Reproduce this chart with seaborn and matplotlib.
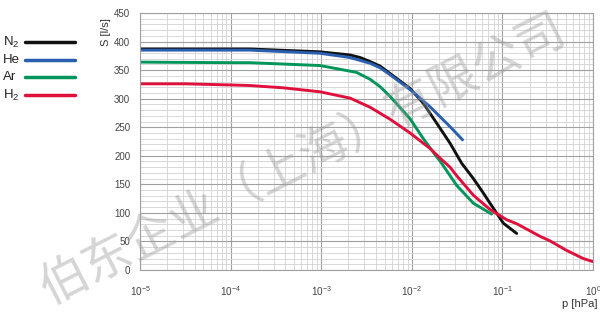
import numpy as np
import pandas as pd
import matplotlib
matplotlib.use("Agg")
import matplotlib.pyplot as plt
import matplotlib.ticker as mticker
from matplotlib.lines import Line2D
import seaborn as sns

# ---- data, pressure as log10(p [hPa]) ----
n2_logp = [-5, -4, -3.786, -3.013, -2.682, -2.57, -2.461, -2.35, -2.24, -2.02, -1.873,
           -1.725, -1.578, -1.45, -1.32, -1.22, -1.137, -0.99, -0.842]
n2_s = [387, 387, 387, 382, 376.5, 372, 365, 357, 344, 318, 292,
        257, 222, 187, 160, 137, 117, 82, 64]

he_logp = [-5, -4, -3.786, -3.013, -2.682, -2.461, -2.35, -2.24, -2.02, -1.80, -1.578, -1.44]
he_s = [385, 385, 385, 379.5, 372, 362, 354, 342, 316, 286, 251, 228]

ar_logp = [-5, -4, -3.786, -3.013, -2.61, -2.461, -2.35, -2.24, -2.02, -1.873, -1.725,
           -1.689, -1.504, -1.321, -1.12]
ar_s = [364, 363, 363, 358, 346, 334, 321, 304, 265, 230, 198,
        191, 148, 117, 98]

h2_logp = [-5, -4.5, -4, -3.786, -3.418, -3.013, -2.682, -2.461, -2.24, -2.02, -1.80,
           -1.689, -1.578, -1.504, -1.321, -1.137, -0.953, -0.842, -0.585, -0.475,
           -0.3, -0.107, 0]
h2_s = [326, 326, 324, 323, 319, 312, 301, 285, 264, 240, 213,
        196, 180, 165, 131, 106, 88, 81, 59, 51,
        35, 20, 14.6]

gases = ["N$_2$", "He", "Ar", "H$_2$"]
colors = ["#111111", "#2a5fb0", "#00955a", "#e0103c"]

frames = []
for g, lp, s in zip(gases, [n2_logp, he_logp, ar_logp, h2_logp], [n2_s, he_s, ar_s, h2_s]):
    frames.append(pd.DataFrame({"p": np.power(10.0, lp), "S": s, "gas": g}))
df = pd.concat(frames, ignore_index=True)

sns.set_style("white")
plt.rcParams["font.family"] = ["Liberation Sans", "DejaVu Sans"]
plt.rcParams["mathtext.fontset"] = "custom"
plt.rcParams["mathtext.rm"] = "Liberation Sans"
plt.rcParams["mathtext.it"] = "Liberation Sans"

fig = plt.figure(figsize=(6.0, 3.14), dpi=100)
ax = fig.add_axes([140/600, 1-270/314, (593-140)/600, (270-13)/314])

ax.set_xscale("log")
sns.lineplot(data=df, x="p", y="S", hue="gas", hue_order=gases,
             palette=colors, linewidth=2.1, ax=ax, legend=False, sort=False)

ax.set_xlim(1e-5, 1)
ax.set_ylim(0, 450)
ax.xaxis.set_major_locator(mticker.LogLocator(base=10, numticks=10))
ax.xaxis.set_minor_locator(mticker.LogLocator(base=10, subs=np.arange(2, 10), numticks=20))
ax.xaxis.set_major_formatter(mticker.LogFormatterMathtext())
ax.xaxis.set_minor_formatter(mticker.NullFormatter())
ax.yaxis.set_major_locator(mticker.MultipleLocator(50))
ax.yaxis.set_minor_locator(mticker.MultipleLocator(10))

ax.grid(which="major", color="#a0a0a0", linewidth=0.8)
ax.grid(which="minor", color="#d2d2d2", linewidth=0.6)
ax.set_axisbelow(True)
for sp in ax.spines.values():
    sp.set_color("#a0a0a0")
    sp.set_linewidth(0.8)

ax.tick_params(axis="both", which="major", colors="#444444",
               length=3, width=0.6, direction="out")
ax.tick_params(axis="x", which="major", labelsize=7.2, pad=7)
ax.tick_params(axis="y", which="major", labelsize=7, pad=4)
ax.tick_params(axis="both", which="minor", length=0)

ax.set_xlabel("")
ax.set_ylabel("")
fig.text(597/600, 1-304/314, "p [hPa]", ha="right", va="center", fontsize=8, color="#333333")
fig.text(106/600, 1-32/314, "S [l/s]", ha="center", va="center", rotation=90, fontsize=8, color="#333333")

# legend (left, label then swatch)
leg_y = [42, 60, 77, 95]
for lab, col, yy in zip(gases, colors, leg_y):
    fig.text(3/600, 1-yy/314, lab, ha="left", va="center", fontsize=9.5, color="#222222")
    fig.add_artist(Line2D([25/600, 75/600], [1-yy/314, 1-yy/314], color=col,
                          linewidth=2.5, transform=fig.transFigure))

fig.text(0.505, 0.49, "伯东企业（上海）有限公司", rotation=27, ha="center", va="center",
         fontsize=35, color="#9a9a9a", alpha=0.42,
         family=["Noto Sans CJK SC", "DejaVu Sans"], zorder=10)

fig.savefig("out.png", dpi=100)
